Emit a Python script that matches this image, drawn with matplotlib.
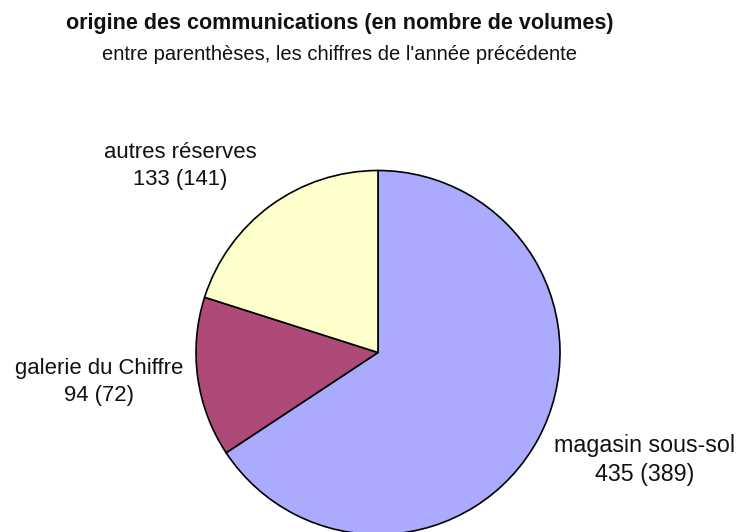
import matplotlib
matplotlib.use("Agg")
import matplotlib.pyplot as plt

plt.rcParams['font.family'] = ['Liberation Sans', 'DejaVu Sans']

categories = ["magasin sous-sol", "galerie du Chiffre", "autres réserves"]
values = [435, 94, 133]
previous = [389, 72, 141]
colors = ["#AAAAFF", "#AD4A78", "#FFFFCC"]

title = "origine des communications (en nombre de volumes)"
subtitle = "entre parenthèses, les chiffres de l'année précédente"

W, H = 745, 532
fig = plt.figure(figsize=(W / 100, H / 100), dpi=100)
ax = fig.add_axes([0, 0, 1, 1])

cx, cy, r = 378, H - 352.5, 182
ax.pie(values, colors=colors, startangle=90, counterclock=False,
       center=(cx, cy), radius=r,
       wedgeprops=dict(edgecolor="black", linewidth=1.2))
ax.set_xlim(0, W)
ax.set_ylim(0, H)
ax.set_aspect('auto')
ax.axis('off')

renderer = fig.canvas.get_renderer()


def fit(t, target_w):
    for _ in range(3):
        w = t.get_window_extent(renderer).width
        t.set_fontsize(t.get_fontsize() * target_w / w)


# label block centres (x, y from top) and target widths of the widest line
label_pos = [(645, 460), (99, 382), (180, 166)]
label_w = [180, 168, 153]
for name, v, p, (x, y), tw in zip(categories, values, previous, label_pos, label_w):
    t = ax.text(x, H - y, f"{name}\n{v} ({p})", ha="center", va="center",
                fontsize=16, linespacing=1.32, color="#111111")
    fit(t, tw)

tt = fig.text(340 / W, 1 - 24 / H, title, ha="center", va="center",
              fontsize=16, fontweight="bold", color="#111111")
fit(tt, 550)
st = fig.text(340 / W, 1 - 54 / H, subtitle, ha="center", va="center",
              fontsize=15, color="#111111")
fit(st, 475)

fig.savefig("out.png", dpi=100)
